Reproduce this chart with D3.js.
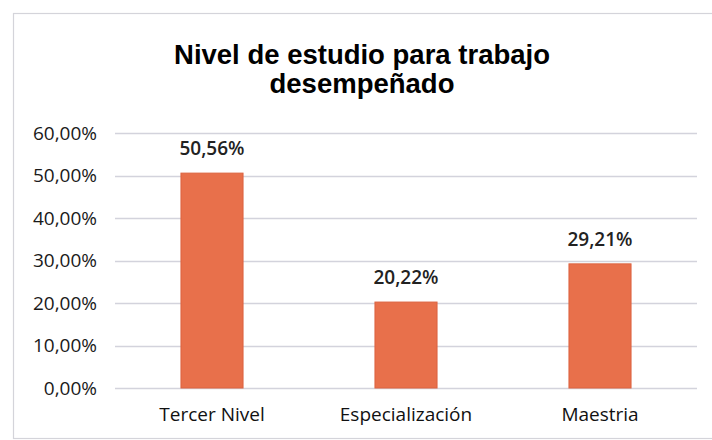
<!DOCTYPE html>
<html>
<head>
<meta charset="utf-8">
<script src="https://cdn.jsdelivr.net/npm/d3@7"></script>
<style>
  html, body { margin: 0; padding: 0; background: #fff; }
  svg { display: block; }
</style>
</head>
<body>
<svg id="chart" width="712" height="440"></svg>
<script>
// Study level required for the job performed
const categories = ["Tercer Nivel", "Especialización", "Maestria"];
const values = [50.56, 20.22, 29.21];
const yTicks = [0, 10, 20, 30, 40, 50, 60];
const titleLines = ["Nivel de estudio para trabajo", "desempeñado"];

const svg = d3.select("#chart");
const W = 712, H = 440;
const plot = { left: 115, right: 697, top: 133, bottom: 388 };
const bodyFont = "'Open Sans', Lato, sans-serif";

const fmt = v => d3.format(".2f")(v).replace(".", ",") + "%";

// Chart frame
svg.append("rect")
  .attr("x", 13.5).attr("y", 13.5)
  .attr("width", W + 10).attr("height", 425)
  .attr("fill", "#fff")
  .attr("stroke", "#d4d4da")
  .attr("stroke-width", 1.2);

const x = d3.scaleBand()
  .domain(categories)
  .range([plot.left, plot.right])
  .paddingInner(0.68)
  .paddingOuter(0.34);

const y = d3.scaleLinear()
  .domain([0, 60])
  .range([plot.bottom, plot.top]);

// Horizontal gridlines
svg.append("g")
  .selectAll("line")
  .data(yTicks)
  .join("line")
  .attr("x1", plot.left).attr("x2", plot.right)
  .attr("y1", d => Math.round(y(d)) + 0.5)
  .attr("y2", d => Math.round(y(d)) + 0.5)
  .attr("stroke", "#d3d3dc")
  .attr("stroke-width", 1.3);

// Y axis labels
const yAxis = d3.axisLeft(y)
  .tickValues(yTicks)
  .tickFormat(fmt)
  .tickSize(0)
  .tickPadding(18);

const gy = svg.append("g")
  .attr("transform", `translate(${plot.left},0)`)
  .call(yAxis);
gy.select(".domain").remove();
gy.selectAll("text")
  .attr("font-family", bodyFont)
  .attr("font-size", 19)
  .attr("fill", "#1a1a1a");

// Bars
svg.append("g")
  .selectAll("rect")
  .data(values)
  .join("rect")
  .attr("x", (d, i) => x(categories[i]))
  .attr("y", d => y(d))
  .attr("width", x.bandwidth())
  .attr("height", d => y(0) - y(d))
  .attr("fill", "#e8704b")
  .attr("stroke", "#dc6340")
  .attr("stroke-width", 1);

// Value labels
svg.append("g")
  .selectAll("text")
  .data(values)
  .join("text")
  .attr("x", (d, i) => x(categories[i]) + x.bandwidth() / 2)
  .attr("y", d => y(d) - 18)
  .attr("text-anchor", "middle")
  .attr("font-family", bodyFont)
  .attr("font-size", 19)
  .attr("font-weight", 600)
  .attr("fill", "#222")
  .text(d => fmt(d));

// Category labels
const xAxis = d3.axisBottom(x).tickSize(0).tickPadding(20);
const gx = svg.append("g")
  .attr("transform", `translate(0,${plot.bottom})`)
  .call(xAxis);
gx.select(".domain").remove();
gx.selectAll("text")
  .attr("font-family", bodyFont)
  .attr("font-size", 19)
  .attr("fill", "#111");

// Title
svg.append("text")
  .attr("text-anchor", "middle")
  .attr("font-family", "'Liberation Sans', Arial, sans-serif")
  .attr("font-weight", "bold")
  .attr("font-size", 27.5)
  .attr("fill", "#000")
  .selectAll("tspan")
  .data(titleLines)
  .join("tspan")
  .attr("x", 362)
  .attr("y", (d, i) => 64 + i * 29)
  .text(d => d);
</script>
</body>
</html>
